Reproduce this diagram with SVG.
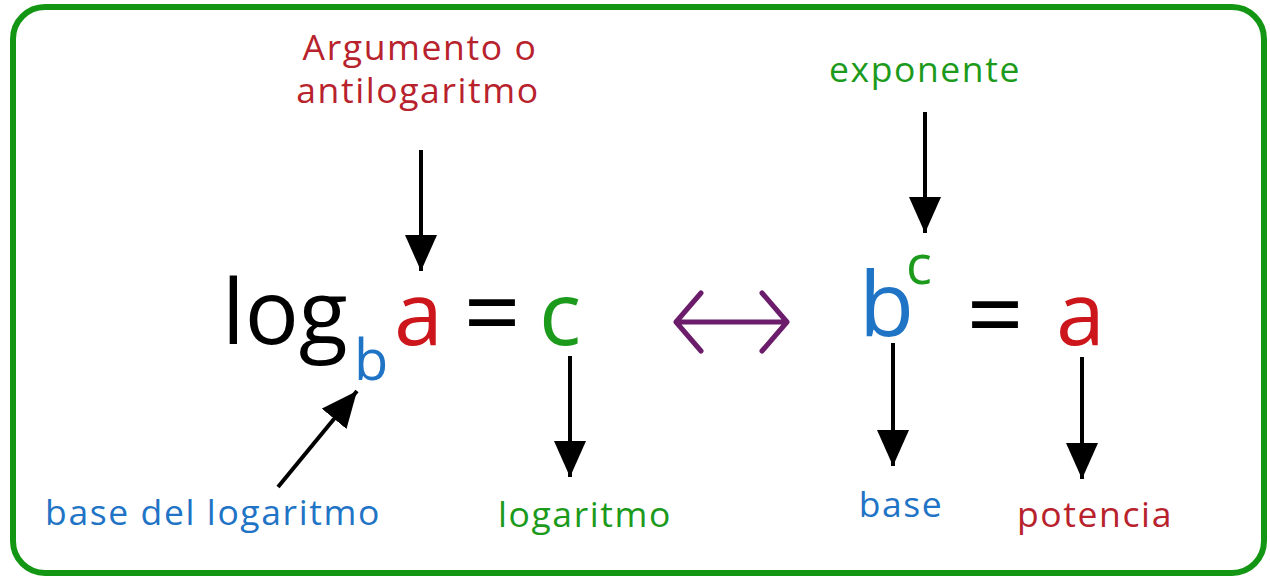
<svg xmlns="http://www.w3.org/2000/svg" width="1270" height="581" viewBox="0 0 1270 581">
<style>
.lbl{font-family:"Open Sans","Noto Sans",sans-serif;font-size:35.5px;letter-spacing:1.6px;text-anchor:middle}
.eq{font-family:"Open Sans","Noto Sans",sans-serif;font-weight:500}
.red{fill:#cc161b}.lred{fill:#b8222c}.green{fill:#1c9a1c}.blue{fill:#1f74c6}.blk{fill:#000}
.arr{stroke:#000;stroke-width:4;fill:none;marker-end:url(#ah)}
</style>
<defs>
<marker id="ah" markerUnits="userSpaceOnUse" markerWidth="36" markerHeight="32" refX="36" refY="16" orient="auto">
<path d="M0,0 L36,16 L0,32 Z" fill="#000"/>
</marker>
</defs>
<rect x="13" y="7" width="1251" height="566" rx="32" fill="#fff" stroke="#139613" stroke-width="6"/>
<g id="formula-log">
<text class="eq blk" x="222" y="344" font-size="90">log</text>
<text class="eq blue" x="354" y="380" font-size="56">b</text>
<text class="eq red" x="394" y="345" font-size="88">a</text>
<text class="eq blk" x="492" y="348" font-size="100" text-anchor="middle">=</text>
<text class="eq green" x="539" y="345" font-size="88">c</text>
</g>
<g id="equivalence">
<path d="M676,322 H787 M701,293 L676,322 L701,351 M762,293 L787,322 L762,351" fill="none" stroke="#6b1c6b" stroke-width="5" stroke-linecap="round" stroke-linejoin="round"/>
</g>
<g id="formula-pow">
<text class="eq blue" x="859" y="336" font-size="90">b</text>
<text class="eq green" x="906" y="284" font-size="54">c</text>
<text class="eq blk" x="995" y="350" font-size="100" text-anchor="middle">=</text>
<text class="eq red" x="1056" y="345" font-size="88">a</text>
</g>
<g id="label-argumento">
<text class="lbl lred" x="420" y="60">Argumento o</text>
<text class="lbl lred" x="418" y="103">antilogaritmo</text>
</g>
<g id="label-exponente"><text class="lbl green" x="925" y="82">exponente</text></g>
<g id="label-base-log"><text class="lbl blue" x="213" y="525">base del logaritmo</text></g>
<g id="label-logaritmo"><text class="lbl green" x="585" y="527">logaritmo</text></g>
<g id="label-base"><text class="lbl blue" x="901" y="517">base</text></g>
<g id="label-potencia"><text class="lbl lred" x="1095" y="527">potencia</text></g>
<g id="connectors">
<line class="arr" x1="421" y1="150" x2="421" y2="271"/>
<line class="arr" x1="925" y1="112" x2="925" y2="233"/>
<line class="arr" x1="278" y1="487" x2="357" y2="391"/>
<line class="arr" x1="570" y1="356" x2="570" y2="477"/>
<line class="arr" x1="893" y1="343" x2="893" y2="466"/>
<line class="arr" x1="1082" y1="357" x2="1082" y2="479"/>
</g>
</svg>
